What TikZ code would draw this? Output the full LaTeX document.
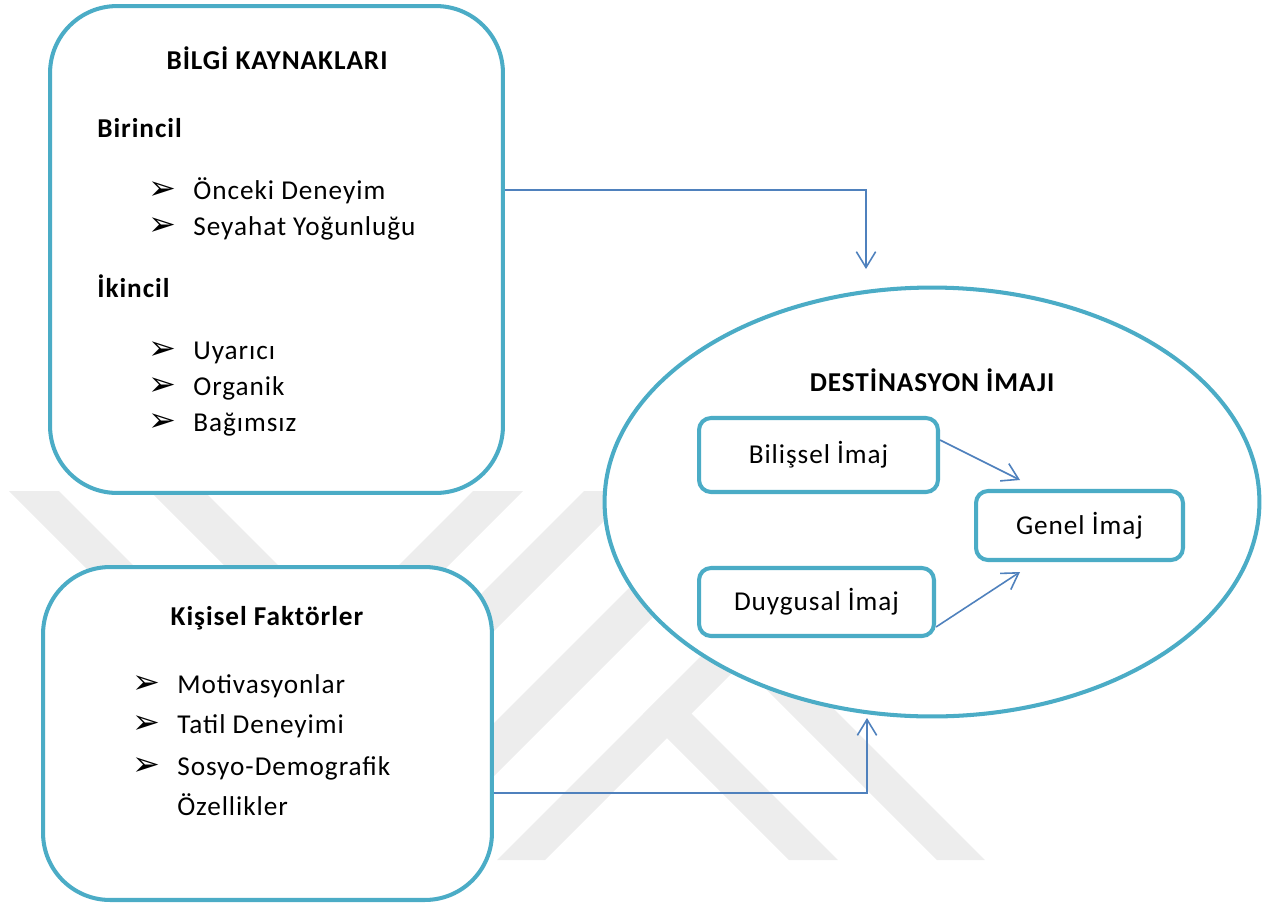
\documentclass[tikz,border=0pt]{standalone}
\usepackage{fontspec}
\setmainfont{Carlito}[LetterSpace=3.5]
\newfontfamily\okfont{DejaVu Sans}
\usetikzlibrary{shapes.geometric,arrows.meta}

\definecolor{kenar}{HTML}{4BACC6}
\definecolor{okrenk}{HTML}{4F81BD}
\definecolor{filigran}{HTML}{EDEDED}

% bullet with a fixed gap to the item text
\newcommand{\madde}{\makebox[0.9cm][l]{\raisebox{-0.5pt}{\okfont\fontsize{19pt}{20pt}\selectfont ➢}}}

\tikzset{
  anakutu/.style={draw=kenar, line width=2.3pt, fill=white, rounded corners=1.34cm},
  kucukkutu/.style={draw=kenar, line width=2.3pt, fill=white, rounded corners=0.24cm},
  metin/.style={font=\fontsize{15.5pt}{19pt}\selectfont, inner sep=0pt},
  baslik/.style={metin, font=\fontsize{15.5pt}{19pt}\selectfont\bfseries},
  baglanti/.style={draw=okrenk, line width=0.9pt, -{Straight Barb[length=9pt,width=11pt]}},
}

\begin{document}
\begin{tikzpicture}[x=0.02cm,y=-0.02cm]
\useasboundingbox (0,0) rectangle (1269,904);

% we draw the watermark in the back
\begin{scope}
\clip (0,491) rectangle (1269,860);
\fill[filigran] (9,491) -- (59,491) -- (259,691) -- (209,691) -- cycle;
\fill[filigran] (150,491) -- (204,491) -- (404,691) -- (350,691) -- cycle;
\fill[filigran] (473,491) -- (523,491) -- (154,860) -- (104,860) -- cycle;
\fill[filigran] (584,491) -- (634,491) -- (265,860) -- (215,860) -- cycle;
\fill[filigran] (726,491) -- (779,491) -- (410,860) -- (357,860) -- cycle;
\fill[filigran] (866,491) -- (914,491) -- (545,860) -- (497,860) -- cycle;
\fill[filigran] (643,714) -- (667.5,689.5) -- (838,860) -- (789,860) -- cycle;
\fill[filigran] (677,600) -- (725,600) -- (985,860) -- (937,860) -- cycle;
\end{scope}

% the two boxes on the left
\node[anakutu, minimum width=9.06cm, minimum height=9.74cm] (bilgi) at (276.5,249.5) {};
\node[anakutu, minimum width=8.98cm, minimum height=6.66cm] (kisisel) at (267.5,733.5) {};

% the image ellipse and its boxes
\node[draw=kenar, line width=2.3pt, fill=white, ellipse, minimum width=13.1cm, minimum height=8.58cm] (destinasyon) at (932,502) {};
\node[kucukkutu, metin, minimum width=4.78cm, minimum height=1.48cm] (bilissel) at (818.5,455) {Bilişsel İmaj};
\node[kucukkutu, metin, minimum width=4.7cm, minimum height=1.36cm] (duygusal) at (816.5,602) {Duygusal İmaj};
\node[kucukkutu, metin, minimum width=4.14cm, minimum height=1.38cm] (genel) at (1079.5,525.5) {Genel İmaj};

% we add some labels
\node[baslik, anchor=base] (bilgibaslik) at (277,69) {BİLGİ KAYNAKLARI};
\node[baslik, anchor=base west] (birincil) at (97,137) {Birincil};
\node[metin, anchor=base west] (onceki) at (148,199) {\madde Önceki Deneyim};
\node[metin, anchor=base west] (seyahat) at (148,235) {\madde Seyahat Yoğunluğu};
\node[baslik, anchor=base west] (ikincil) at (97,297) {İkincil};
\node[metin, anchor=base west] (uyarici) at (148,359) {\madde Uyarıcı};
\node[metin, anchor=base west] (organik) at (148,395) {\madde Organik};
\node[metin, anchor=base west] (bagimsiz) at (148,431) {\madde Bağımsız};

\node[baslik, anchor=base] (kisiselbaslik) at (267,625) {Kişisel Faktörler};
\node[metin, anchor=base west] (motivasyon) at (132,693) {\madde Motivasyonlar};
\node[metin, anchor=base west] (tatil) at (132,733) {\madde Tatil Deneyimi};
\node[metin, anchor=base west] (sosyo) at (132,775) {\madde Sosyo-Demografik};
\node[metin, anchor=base west] (ozellik) at (177,815) {Özellikler};

\node[baslik, anchor=base] (destbaslik) at (932,391) {DESTİNASYON İMAJI};

% the connectors
\coordinate (ustkose) at (866,190);
\coordinate (ustuc) at (866,269);
\draw[baglanti] (bilgi.east |- ustkose) -- (ustkose) -- (ustuc);

\coordinate (altkose) at (867,793);
\coordinate (altuc) at (867,718);
\draw[baglanti] (kisisel.east |- altkose) -- (altkose) -- (altuc);

\coordinate (genelust) at (1020,480);
\coordinate (genelalt) at (1020,572);
\draw[baglanti] (bilissel.east) ++(0,-15) -- (genelust);
\draw[baglanti] (duygusal.east) ++(0,25) -- (genelalt);

\end{tikzpicture}
\end{document}
